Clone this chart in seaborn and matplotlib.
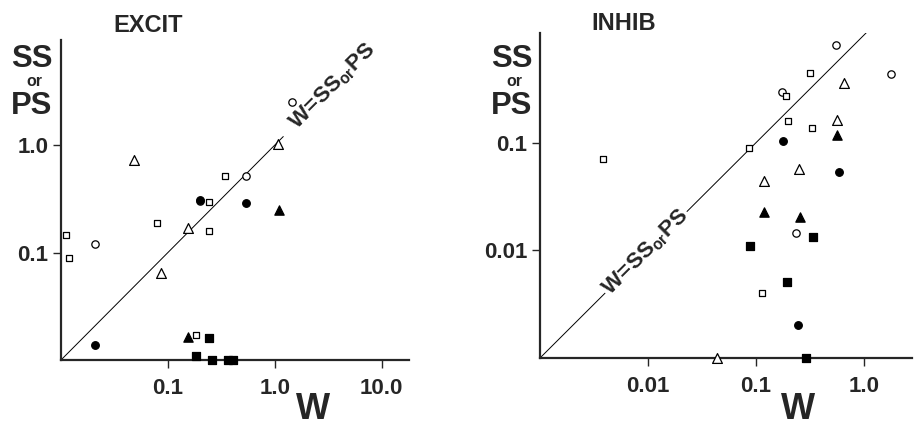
import matplotlib
matplotlib.use("Agg")
import matplotlib.pyplot as plt
import seaborn as sns
import pandas as pd
from matplotlib.ticker import NullLocator

# EXCIT panel: W against SS or PS, one pair of lists per symbol
ex_open_circle_w = [1.45, 0.54, 0.20, 0.0206]
ex_open_circle_ss = [2.5, 0.52, 0.30, 0.119]
ex_open_square_w = [0.0111, 0.0118, 0.079, 0.339, 0.242, 0.242, 0.185]
ex_open_square_ss = [0.146, 0.089, 0.187, 0.52, 0.296, 0.16, 0.0172]
ex_open_tri_w = [0.0484, 1.07, 0.154, 0.087]
ex_open_tri_ss = [0.72, 1.03, 0.168, 0.064]
ex_fill_circle_w = [0.20, 0.536, 0.0207]
ex_fill_circle_ss = [0.31, 0.286, 0.0138]
ex_fill_tri_w = [1.09, 0.155]
ex_fill_tri_ss = [0.248, 0.0162]
ex_fill_square_w = [0.242, 0.185, 0.258, 0.361, 0.408]
ex_fill_square_ss = [0.0161, 0.011, 0.01, 0.01, 0.01]

# INHIB panel
in_open_circle_w = [0.557, 1.77, 0.176, 0.236]
in_open_circle_ss = [0.82, 0.44, 0.30, 0.0146]
in_open_square_w = [0.0038, 0.315, 0.19, 0.20, 0.331, 0.087, 0.113]
in_open_square_ss = [0.0706, 0.45, 0.27, 0.159, 0.136, 0.089, 0.00403]
in_open_tri_w = [0.656, 0.561, 0.25, 0.119, 0.044]
in_open_tri_ss = [0.362, 0.163, 0.0567, 0.0445, 0.001]
in_fill_circle_w = [0.178, 0.59, 0.244]
in_fill_circle_ss = [0.103, 0.0538, 0.00204]
in_fill_tri_w = [0.561, 0.12, 0.258]
in_fill_tri_ss = [0.119, 0.0228, 0.0205]
in_fill_square_w = [0.089, 0.336, 0.195, 0.289]
in_fill_square_ss = [0.0111, 0.0132, 0.0051, 0.001]

rows = []
def add(panel, symbol, ws, ss):
    for w, s in zip(ws, ss):
        rows.append({"panel": panel, "symbol": symbol, "W": w, "SS": s})

add("EXCIT", "open circle", ex_open_circle_w, ex_open_circle_ss)
add("EXCIT", "open square", ex_open_square_w, ex_open_square_ss)
add("EXCIT", "open triangle", ex_open_tri_w, ex_open_tri_ss)
add("EXCIT", "filled circle", ex_fill_circle_w, ex_fill_circle_ss)
add("EXCIT", "filled triangle", ex_fill_tri_w, ex_fill_tri_ss)
add("EXCIT", "filled square", ex_fill_square_w, ex_fill_square_ss)
add("INHIB", "open circle", in_open_circle_w, in_open_circle_ss)
add("INHIB", "open square", in_open_square_w, in_open_square_ss)
add("INHIB", "open triangle", in_open_tri_w, in_open_tri_ss)
add("INHIB", "filled circle", in_fill_circle_w, in_fill_circle_ss)
add("INHIB", "filled triangle", in_fill_tri_w, in_fill_tri_ss)
add("INHIB", "filled square", in_fill_square_w, in_fill_square_ss)
df = pd.DataFrame(rows)

# marker, face colour, size
symbols = {
    "open circle": ("o", "white", 28),
    "open square": ("s", "white", 20),
    "open triangle": ("^", "white", 50),
    "filled circle": ("o", "black", 30),
    "filled triangle": ("^", "black", 45),
    "filled square": ("s", "black", 26),
}

sns.set_style("ticks")
plt.rcParams["font.family"] = ["Liberation Sans", "DejaVu Sans"]
plt.rcParams["font.weight"] = "bold"
plt.rcParams["mathtext.fontset"] = "custom"
plt.rcParams["mathtext.bf"] = "Liberation Sans:bold"
plt.rcParams["mathtext.rm"] = "Liberation Sans:bold"

W, H = 914, 428
fig = plt.figure(figsize=(W / 100, H / 100), dpi=100)

def px_axes(left, top, right, bottom):
    return fig.add_axes([left / W, 1 - bottom / H, (right - left) / W, (bottom - top) / H])

panels = {
    "EXCIT": dict(box=(61, 40, 409, 360), xlim=(0.01, 18), ylim=(0.01, 9.5),
                  xticks=[0.1, 1, 10], xlabels=["0.1", "1.0", "10.0"],
                  yticks=[0.1, 1], ylabels=["0.1", "1.0"],
                  line=(0.01, 1.2), text_at=3.5),
    "INHIB": dict(box=(540, 33, 912, 358), xlim=(0.001, 2.8), ylim=(0.001, 1.05),
                  xticks=[0.01, 0.1, 1], xlabels=["0.01", "0.1", "1.0"],
                  yticks=[0.01, 0.1], ylabels=["0.01", "0.1"],
                  line=(0.001, 1.1), text_at=0.0096),
}

for name, p in panels.items():
    ax = px_axes(*p["box"])
    ax.set_xscale("log")
    ax.set_yscale("log")
    ax.set_xlim(*p["xlim"])
    ax.set_ylim(*p["ylim"])

    lo, hi = p["line"]
    ax.plot([lo, hi], [lo, hi], color="black", lw=0.7, zorder=1)
    ax.text(p["text_at"], p["text_at"], r"$\mathbf{W\!=\!SS_{or}PS}$", rotation=45,
            rotation_mode="anchor", ha="center", va="center", fontsize=16,
            bbox=dict(facecolor="white", edgecolor="none", pad=1.0), zorder=2)

    sub = df[df["panel"] == name]
    for sym, (marker, face, size) in symbols.items():
        pts = sub[sub["symbol"] == sym]
        sns.scatterplot(data=pts, x="W", y="SS", marker=marker, color=face,
                        edgecolor="black", linewidth=0.9, s=size, ax=ax,
                        clip_on=False, zorder=4, legend=False)

    ax.set_xticks(p["xticks"])
    ax.set_xticklabels(p["xlabels"])
    ax.set_yticks(p["yticks"])
    ax.set_yticklabels(p["ylabels"])
    ax.xaxis.set_minor_locator(NullLocator())
    ax.yaxis.set_minor_locator(NullLocator())
    ax.tick_params(axis="both", length=6, width=1, labelsize=16, direction="out")
    ax.tick_params(axis="x", pad=7)
    ax.tick_params(axis="y", pad=3)
    for lab in ax.get_xticklabels() + ax.get_yticklabels():
        lab.set_fontweight("bold")
    ax.set_xlabel("")
    ax.set_ylabel("")
    for side in ("top", "right"):
        ax.spines[side].set_visible(False)
    for side in ("left", "bottom"):
        ax.spines[side].set_linewidth(1.6)
    ax.patch.set_alpha(0)

def ftext(x, y, s, size):
    # y is the baseline, in pixels from the top
    fig.text(x / W, 1 - y / H, s, fontsize=size, fontweight="bold",
             ha="center", va="baseline")

ftext(148, 32, "EXCIT", 17)
ftext(624, 30, "INHIB", 17)
for cx in (32, 512):
    ftext(cx, 67, "SS", 22.3)
    ftext(cx + 2, 86, "or", 11.5)
    ftext(cx, 113.5, "PS", 22.3)
ftext(313, 419, "W", 26)
ftext(798, 419, "W", 26)

fig.savefig("out.png", dpi=100)
